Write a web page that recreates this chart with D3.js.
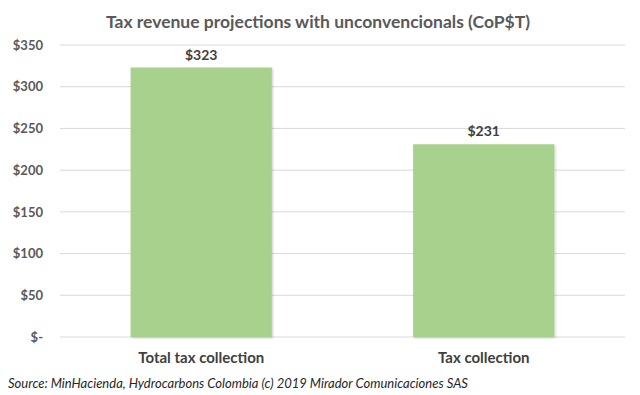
<!DOCTYPE html>
<html>
<head>
<meta charset="utf-8">
<script src="https://cdn.jsdelivr.net/npm/d3@7"></script>
<style>
  body { margin: 0; background: #fff; }
  text { font-family: Lato, "Open Sans", sans-serif; }
</style>
</head>
<body>
<div id="chart"></div>
<script>
// Chart data
const categories = ["Total tax collection", "Tax collection"];
const values = [323, 231];
const yTicks = [0, 50, 100, 150, 200, 250, 300, 350];

const width = 640, height = 395;
const margin = { top: 45, right: 15, bottom: 58, left: 60 };

const svg = d3.select("#chart").append("svg")
    .attr("width", width)
    .attr("height", height);

const x = d3.scaleBand()
    .domain(categories)
    .range([margin.left, width - margin.right])
    .paddingInner(0.5)
    .paddingOuter(0.25);

const y = d3.scaleLinear()
    .domain([0, 350])
    .range([height - margin.bottom, margin.top]);

// gridlines
svg.append("g")
    .selectAll("line")
    .data(yTicks)
    .enter()
    .append("line")
    .attr("x1", margin.left)
    .attr("x2", width - margin.right)
    .attr("y1", d => y(d))
    .attr("y2", d => y(d))
    .attr("stroke", "#d9d9d9")
    .attr("stroke-width", 1);

// y axis labels
const yAxis = d3.axisLeft(y)
    .tickValues(yTicks)
    .tickSize(0)
    .tickPadding(0)
    .tickFormat(d => d === 0 ? "$-" : "$" + d);

svg.append("g")
    .attr("transform", `translate(${margin.left - 17},0)`)
    .call(yAxis)
    .call(g => g.select(".domain").remove())
    .selectAll("text")
    .attr("font-family", "Lato, sans-serif")
    .attr("font-size", 13)
    .attr("font-weight", "bold")
    .attr("fill", "#595959");

// shadow filter for bars
const defs = svg.append("defs");
const filter = defs.append("filter").attr("id", "shadow")
    .attr("x", "-5%").attr("y", "-5%").attr("width", "115%").attr("height", "115%");
filter.append("feDropShadow")
    .attr("dx", 1).attr("dy", 1).attr("stdDeviation", 1)
    .attr("flood-color", "#000").attr("flood-opacity", 0.2);

// bars
svg.append("g")
    .selectAll("rect")
    .data(values)
    .enter()
    .append("rect")
    .attr("x", (d, i) => x(categories[i]))
    .attr("y", d => y(d))
    .attr("width", x.bandwidth())
    .attr("height", d => y(0) - y(d))
    .attr("fill", "#a9d18e")
    .attr("filter", "url(#shadow)");

// value labels
svg.append("g")
    .selectAll("text")
    .data(values)
    .enter()
    .append("text")
    .attr("x", (d, i) => x(categories[i]) + x.bandwidth() / 2)
    .attr("y", d => y(d) - 8)
    .attr("text-anchor", "middle")
    .attr("font-size", 14)
    .attr("font-weight", "bold")
    .attr("fill", "#404040")
    .text(d => "$" + d);

// category labels
svg.append("g")
    .selectAll("text")
    .data(categories)
    .enter()
    .append("text")
    .attr("x", d => x(d) + x.bandwidth() / 2)
    .attr("y", y(0) + 26)
    .attr("text-anchor", "middle")
    .attr("font-size", 15)
    .attr("font-weight", "bold")
    .attr("fill", "#404040")
    .text(d => d);

// title
svg.append("text")
    .attr("x", 318)
    .attr("y", 28)
    .attr("text-anchor", "middle")
    .attr("font-size", 17.5)
    .attr("font-weight", "bold")
    .attr("fill", "#595959")
    .text("Tax revenue projections with unconvencionals (CoP$T)");

// source
svg.append("text")
    .attr("x", 8)
    .attr("y", 388)
    .attr("font-size", 13)
    .attr("font-style", "italic")
    .attr("fill", "#262626")
    .text("Source:  MinHacienda, Hydrocarbons Colombia (c) 2019 Mirador Comunicaciones SAS");
</script>
</body>
</html>
